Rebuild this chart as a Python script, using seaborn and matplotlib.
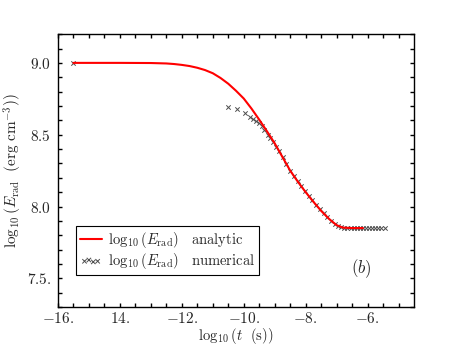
import numpy as np
import pandas as pd
import seaborn as sns
import matplotlib
matplotlib.use("Agg")
import matplotlib.pyplot as plt

# analytic curve (log10 t, log10 E_rad)
t_analytic = [-15.5, -14.0, -13.0, -12.5, -12.25, -12.0, -11.75, -11.5, -11.25,
              -11.0, -10.75, -10.5, -10.25, -10.0, -9.75, -9.5, -9.25, -9.0,
              -8.75, -8.5, -8.25, -8.0, -7.75, -7.5, -7.25, -7.0, -6.8, -6.5, -6.15]
e_analytic = [9.000, 9.000, 8.999, 8.996, 8.992, 8.986, 8.978, 8.966, 8.950,
              8.928, 8.895, 8.855, 8.806, 8.752, 8.682, 8.605, 8.524, 8.440,
              8.345, 8.250, 8.172, 8.100, 8.033, 7.970, 7.915, 7.870, 7.853, 7.850, 7.850]

# numerical points
t_numeric = [-15.5, -10.52, -10.23, -9.97, -9.81, -9.70, -9.61, -9.52, -9.42, -9.33,
             -9.23, -9.14, -9.06, -8.96, -8.85, -8.74, -8.62, -8.50, -8.38, -8.26,
             -8.14, -8.02, -7.90, -7.78, -7.66, -7.54, -7.42, -7.30, -7.18, -7.06,
             -6.95, -6.85, -6.75, -6.65, -6.55, -6.45, -6.35, -6.25, -6.15, -6.05,
             -5.95, -5.85, -5.75, -5.65, -5.55, -5.45]
e_numeric = [9.000, 8.694, 8.681, 8.653, 8.625, 8.612, 8.597, 8.580, 8.562, 8.530,
             8.500, 8.475, 8.450, 8.415, 8.385, 8.345, 8.296, 8.250, 8.214, 8.178,
             8.142, 8.106, 8.074, 8.043, 8.012, 7.980, 7.952, 7.926, 7.902, 7.881,
             7.866, 7.857, 7.852, 7.851, 7.852, 7.849, 7.851, 7.848, 7.852, 7.849,
             7.851, 7.848, 7.852, 7.849, 7.851, 7.849]

x_ticks = [-16, -14, -12, -10, -8, -6]
x_ticklabels = [r"$-16.$", r"$14.$", r"$-12.$", r"$-10.$", r"$-8.$", r"$-6.$"]
y_ticks = [7.5, 8.0, 8.5, 9.0]
y_ticklabels = [r"$7.5.$", r"$8.0$", r"$8.5$", r"$9.0$"]

sns.set_theme(style="ticks")
plt.rcParams["font.family"] = ["DejaVu Serif"]
plt.rcParams["mathtext.fontset"] = "cm"

df_a = pd.DataFrame({"t": t_analytic, "E": e_analytic})
df_n = pd.DataFrame({"t": t_numeric, "E": e_numeric})

fig = plt.figure(figsize=(4.6, 3.45), dpi=100)
ax = fig.add_axes([0.126, 0.110, 0.774, 0.791])

sns.lineplot(data=df_a, x="t", y="E", ax=ax, color="red", linewidth=1.5, sort=False,
             label=r"$\log_{10}(E_{\rm rad})\ \ \ {\rm analytic}$", zorder=3)
sns.scatterplot(data=df_n, x="t", y="E", ax=ax, marker="x", color="0.3", s=10,
                linewidth=0.7, label=r"$\log_{10}(E_{\rm rad})\ \ \ {\rm numerical}$", zorder=2)

ax.set_xlim(-16, -4.5)
ax.set_ylim(7.3, 9.2)
ax.set_xticks(x_ticks)
ax.set_xticklabels(x_ticklabels, fontsize=11)
ax.set_yticks(y_ticks)
ax.set_yticklabels(y_ticklabels, fontsize=11)
ax.set_xticks(np.arange(-16, -4.5, 0.5), minor=True)
ax.set_yticks(np.arange(7.3, 9.21, 0.1), minor=True)
ax.tick_params(which="both", direction="in", top=True, right=True, length=3,
               width=1, color="black")
ax.tick_params(axis="x", pad=3)
ax.tick_params(axis="y", pad=5)
for s in ax.spines.values():
    s.set_linewidth(1.0)
    s.set_color("black")

ax.set_xlabel(r"$\log_{10}(t\ \ ({\rm s}))$", fontsize=10.5, labelpad=0)
ax.set_ylabel(r"$\log_{10}(E_{\rm rad}\ \ ({\rm erg\ cm}^{-3}))$", fontsize=11, labelpad=2)

ax.text(-6.2, 7.57, r"$(b)$", fontsize=12, ha="center", va="center")

leg = ax.legend(loc="upper left", bbox_to_anchor=(0.05, 0.297), borderaxespad=0,
                fontsize=10.5, frameon=True, fancybox=False, edgecolor="black",
                framealpha=1, scatterpoints=4, handlelength=1.5, handletextpad=0.4,
                borderpad=0.3, labelspacing=0.05)
leg.get_frame().set_linewidth(0.8)

fig.savefig("out.png", dpi=100)
